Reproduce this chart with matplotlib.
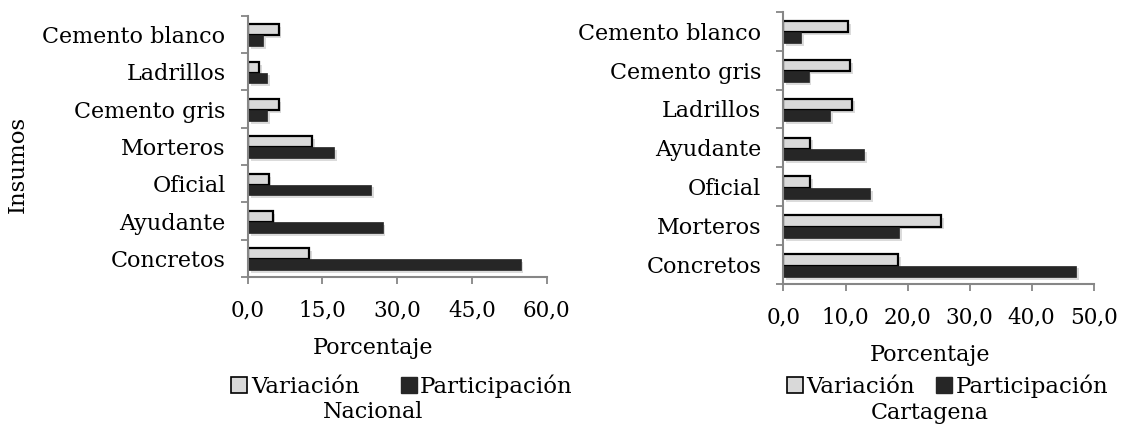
import matplotlib
matplotlib.use("Agg")
import matplotlib.pyplot as plt
import matplotlib.patheffects as pe
from matplotlib.patches import Patch
from matplotlib.ticker import FuncFormatter
import numpy as np

plt.rcParams['font.family'] = ['DejaVu Serif']

# Nacional (de abajo hacia arriba)
insumos_nac = ["Concretos", "Ayudante", "Oficial", "Morteros",
               "Cemento gris", "Ladrillos", "Cemento blanco"]
variacion_nac = [12.4, 5.0, 4.2, 13.0, 6.2, 2.3, 6.2]
participacion_nac = [54.8, 27.1, 24.8, 17.4, 3.9, 3.9, 3.1]
ticks_nac = [0, 15, 30, 45, 60]

# Cartagena (de abajo hacia arriba)
insumos_ctg = ["Concretos", "Morteros", "Oficial", "Ayudante",
               "Ladrillos", "Cemento gris", "Cemento blanco"]
variacion_ctg = [18.5, 25.4, 4.3, 4.3, 11.1, 10.7, 10.4]
participacion_ctg = [47.1, 18.6, 13.95, 13.0, 7.5, 4.05, 2.8]
ticks_ctg = [0, 10, 20, 30, 40, 50]

COL_VAR = "#d9d9d9"
COL_PART = "#262626"
GRIS = "#868686"

sombra = [pe.SimplePatchShadow(offset=(2, -2), shadow_rgbFace="#999999", alpha=0.35), pe.Normal()]


def coma(v, pos):
    return f"{v:.1f}".replace(".", ",")


def dibujar(ax, insumos, var, part, ticks):
    y = np.arange(len(insumos))
    h = 0.29
    b1 = ax.barh(y + 0.12, var, height=h, color=COL_VAR, edgecolor="black", linewidth=1.6)
    b2 = ax.barh(y - 0.17, part, height=h, color=COL_PART, edgecolor=COL_PART, linewidth=0.5)
    for b in list(b1) + list(b2):
        b.set_path_effects(sombra)
    ax.set_ylim(-0.5, len(insumos) - 0.5)
    ax.set_xlim(ticks[0], ticks[-1])
    ax.set_xticks(ticks)
    ax.xaxis.set_major_formatter(FuncFormatter(coma))
    ax.set_yticks(y)
    ax.set_yticklabels(insumos)
    ax.set_yticks(np.arange(len(insumos) + 1) - 0.5, minor=True)
    for s in ["top", "right"]:
        ax.spines[s].set_visible(False)
    for s in ["left", "bottom"]:
        ax.spines[s].set_color(GRIS)
        ax.spines[s].set_linewidth(1.5)
    ax.tick_params(axis="y", which="major", length=0, pad=16, labelsize=16)
    ax.tick_params(axis="y", which="minor", length=5, width=1.3, color=GRIS)
    ax.tick_params(axis="x", which="major", length=5, width=1.3, color=GRIS, pad=11, labelsize=15.5)


fig = plt.figure(figsize=(11.22, 4.24), dpi=100)
ax1 = fig.add_axes([0.2208, 1 - 277 / 424, 0.2663, (277 - 15.7) / 424])
ax2 = fig.add_axes([0.6983, 1 - 284 / 424, 0.2765, (284 - 11.7) / 424])

dibujar(ax1, insumos_nac, variacion_nac, participacion_nac, ticks_nac)
dibujar(ax2, insumos_ctg, variacion_ctg, participacion_ctg, ticks_ctg)

fig.text(0.016, 0.613, "Insumos", rotation=90, ha="center", va="center", fontsize=16.5)
fig.text(0.3324, 1 - 348 / 424, "Porcentaje", ha="center", va="center", fontsize=16)
fig.text(0.829, 1 - 355 / 424, "Porcentaje", ha="center", va="center", fontsize=16)
fig.text(0.3324, 1 - 412 / 424, "Nacional", ha="center", va="center", fontsize=16)
fig.text(0.829, 1 - 413 / 424, "Cartagena", ha="center", va="center", fontsize=16)

handles = [Patch(facecolor=COL_VAR, edgecolor="black", linewidth=1.2, label="Variación"),
           Patch(facecolor=COL_PART, edgecolor=COL_PART, label="Participación")]
for cx, cs in [(402 / 1122, 1.8), (947.5 / 1122, 0.95)]:
    fig.legend(handles=handles, loc="center", bbox_to_anchor=(cx, 1 - 386.7 / 424),
               ncol=2, frameon=False, fontsize=16.5, handlelength=0.7, handleheight=0.7,
               handletextpad=0.15, columnspacing=cs, borderpad=0, borderaxespad=0)

fig.savefig("out.png", dpi=100)
